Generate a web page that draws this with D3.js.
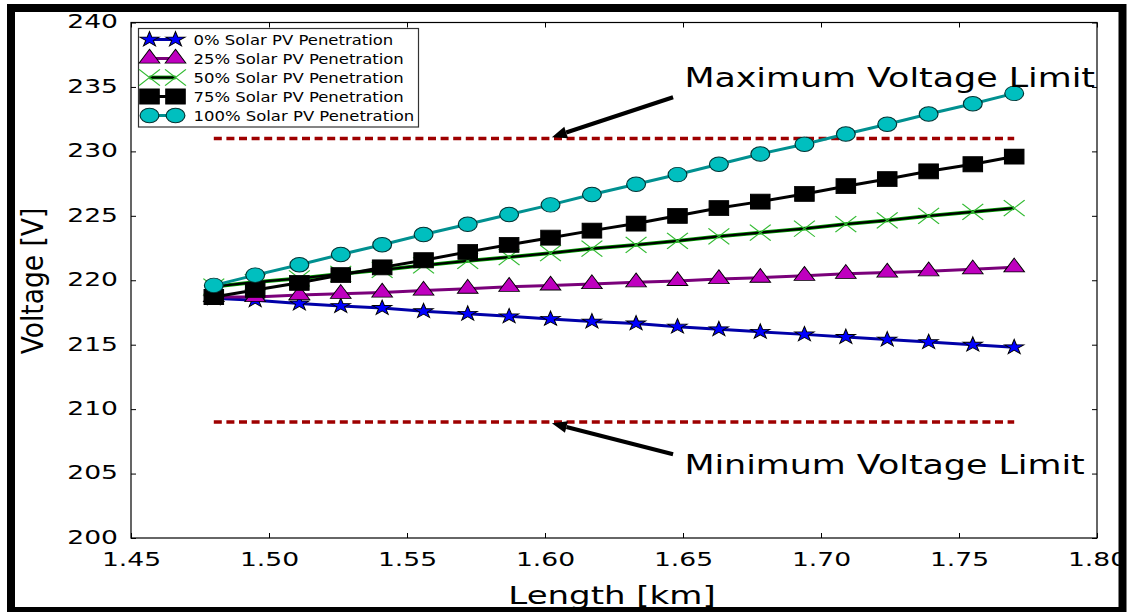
<!DOCTYPE html>
<html>
<head>
<meta charset="utf-8">
<script src="https://cdn.jsdelivr.net/npm/d3@7"></script>
<style>
  body { margin: 0; background: #fff; }
  text { font-family: "DejaVu Sans", sans-serif; fill: #000; }
</style>
</head>
<body>
<div id="chart"></div>
<script>

// length along the feeder [km]
var lengths = [1.480, 1.495, 1.511, 1.526, 1.541, 1.556, 1.572, 1.587, 1.602, 1.617,
               1.633, 1.648, 1.663, 1.678, 1.694, 1.709, 1.724, 1.739, 1.755, 1.770];

// voltages [V] for each penetration level
var pv0 = [218.6, 218.45, 218.2, 218.0, 217.85, 217.6, 217.4, 217.2, 217.0, 216.8,
           216.65, 216.4, 216.2, 216.0, 215.8, 215.6, 215.4, 215.2, 215.0, 214.8];
var pv25 = [218.7, 218.7, 218.85, 218.95, 219.05, 219.2, 219.35, 219.5, 219.6, 219.7,
            219.85, 219.95, 220.1, 220.2, 220.35, 220.5, 220.6, 220.7, 220.85, 221.0];
var pv50 = [219.5, 219.85, 220.15, 220.5, 220.8, 221.15, 221.5, 221.8, 222.1, 222.45,
            222.75, 223.05, 223.4, 223.7, 224.0, 224.35, 224.65, 225.0, 225.3, 225.6];
var pv75 = [218.7, 219.25, 219.8, 220.4, 221.0, 221.55, 222.2, 222.75, 223.3, 223.85,
            224.4, 225.0, 225.6, 226.1, 226.7, 227.3, 227.85, 228.45, 229.0, 229.6];
var pv100 = [219.6, 220.4, 221.2, 222.0, 222.75, 223.55, 224.35, 225.1, 225.85, 226.65,
             227.45, 228.2, 229.0, 229.8, 230.55, 231.35, 232.1, 232.9, 233.7, 234.5];

var seriesNames = ["0% Solar PV Penetration", "25% Solar PV Penetration",
                   "50% Solar PV Penetration", "75% Solar PV Penetration",
                   "100% Solar PV Penetration"];

// voltage limits
var limitValues = [231, 209];
var limitRange = [1.48, 1.77];
var limitLabels = ["Maximum Voltage Limit", "Minimum Voltage Limit"];
var limitArrowTail = [[1.6464, 234.2], [1.6464, 206.5]];
var limitArrowTip = [[1.6025, 231.1], [1.6025, 208.9]];
var limitLabelPos = [[1.6505, 235.0], [1.6505, 205.0]];

// tick labels
var xTicks = [1.45, 1.50, 1.55, 1.60, 1.65, 1.70, 1.75, 1.80];
var yTicks = [200, 205, 210, 215, 220, 225, 230, 235, 240];

window.onload = function () {
  draw_chart();
};

function draw_chart() {

  var width = 1129, height = 612;
  var stretch = 1.33;

  var svg = d3.select("#chart")
              .append("svg")
                .attr("width", width)
                .attr("height", height);

  svg.append("rect").attr("width", width).attr("height", height).attr("fill", "#fff");

  // scales
  var x = d3.scaleLinear().domain([1.45, 1.80]).range([131, 1097]);
  var y = d3.scaleLinear().domain([200, 240]).range([538, 22.5]);

  // axes frame
  svg.append("rect")
    .attr("x", x(1.45)).attr("y", y(240))
    .attr("width", x(1.80) - x(1.45)).attr("height", y(200) - y(240))
    .attr("fill", "none").attr("stroke", "#000").attr("stroke-width", 1.2);

  // inward ticks on all four sides
  var bottom = svg.append("g")
      .attr("transform", "translate(0," + y(200) + ")")
      .call(d3.axisBottom(x).tickValues(xTicks).tickSize(-5).tickSizeOuter(0)
              .tickPadding(14).tickFormat(d3.format(".2f")));
  var left = svg.append("g")
      .attr("transform", "translate(" + x(1.45) + ",0)")
      .call(d3.axisLeft(y).tickValues(yTicks).tickSize(-5).tickSizeOuter(0)
              .tickPadding(14).tickFormat(d3.format("d")));
  svg.append("g")
      .attr("transform", "translate(0," + y(240) + ")")
      .call(d3.axisTop(x).tickValues(xTicks).tickSize(-5).tickSizeOuter(0).tickFormat(""));
  svg.append("g")
      .attr("transform", "translate(" + x(1.80) + ",0)")
      .call(d3.axisRight(y).tickValues(yTicks).tickSize(-5).tickSizeOuter(0).tickFormat(""));

  svg.selectAll(".domain").remove();
  svg.selectAll(".tick line").attr("stroke", "#000").attr("stroke-width", 1);

  bottom.selectAll("text")
    .attr("font-size", 20).attr("font-family", "DejaVu Sans").attr("fill", "#000")
    .attr("transform", "scale(" + stretch + ",1)");
  left.selectAll("text")
    .attr("font-size", 20).attr("font-family", "DejaVu Sans").attr("fill", "#000")
    .attr("x", 0)
    .attr("transform", "translate(-13,-1) scale(" + stretch + ",1)");

  // axis titles
  svg.append("text")
    .attr("transform", "translate(612,604) scale(1.36,1)")
    .attr("text-anchor", "middle")
    .attr("font-size", 25)
    .text("Length [km]");

  svg.append("text")
    .attr("transform", "translate(43,281) rotate(-90) scale(1,1.15)")
    .attr("text-anchor", "middle")
    .attr("font-size", 26.5)
    .text("Voltage [V]");

  // dashed voltage limits
  svg.selectAll(".limit")
    .data(limitValues)
    .enter()
    .append("line")
      .attr("class", "limit")
      .attr("x1", x(limitRange[0])).attr("x2", x(limitRange[1]))
      .attr("y1", function(d) { return y(d); })
      .attr("y2", function(d) { return y(d); })
      .attr("stroke", "#9e0000")
      .attr("stroke-width", 3.5)
      .attr("stroke-dasharray", "8,4.6");

  // series styles
  var styles = [
    {data: pv0, line: "#0000a8", width: 3, symbol: d3.symbolStar, size: 70, fill: "#0000ff", stroke: "#000", sw: 0.8},
    {data: pv25, line: "#7a007a", width: 3, symbol: d3.symbolTriangle, size: 110, fill: "#bf00bf", stroke: "#000", sw: 0.8},
    {data: pv50, line: "#000", width: 2.2, under: "#00a000", symbol: d3.symbolTimes, size: 170, fill: "none", stroke: "#33bb33", sw: 1},
    {data: pv75, line: "#000", width: 3, symbol: d3.symbolSquare, size: 225, fill: "#000", stroke: "#000", sw: 0.8},
    {data: pv100, line: "#009090", width: 3, symbol: d3.symbolCircle, size: 165, fill: "#00bfbf", stroke: "#003333", sw: 0.9}
  ];

  var line = d3.line()
    .x(function(d, i) { return x(lengths[i]); })
    .y(function(d) { return y(d); });

  styles.forEach(function(s) {
    if (s.under) {
      svg.append("path").attr("d", line(s.data)).attr("fill", "none")
        .attr("stroke", s.under).attr("stroke-width", s.width + 1.6);
    }
    svg.append("path").attr("d", line(s.data)).attr("fill", "none")
      .attr("stroke", s.line).attr("stroke-width", s.width);

    svg.append("g").selectAll("path")
      .data(s.data)
      .enter()
      .append("path")
        .attr("d", d3.symbol().type(s.symbol).size(s.size))
        .attr("transform", function(d, i) {
          return "translate(" + x(lengths[i]) + "," + y(d) + ") scale(1.3,1)";
        })
        .attr("fill", s.fill)
        .attr("stroke", s.stroke)
        .attr("stroke-width", s.sw);
  });

  // annotation arrows
  limitLabels.forEach(function(label, k) {
    var tail = [x(limitArrowTail[k][0]), y(limitArrowTail[k][1])];
    var tip = [x(limitArrowTip[k][0]), y(limitArrowTip[k][1])];
    var ang = Math.atan2(tip[1] - tail[1], tip[0] - tail[0]);
    var headLen = 15, headW = 6;
    var base = [tip[0] - headLen * Math.cos(ang), tip[1] - headLen * Math.sin(ang)];

    svg.append("line")
      .attr("x1", tail[0]).attr("y1", tail[1])
      .attr("x2", base[0]).attr("y2", base[1])
      .attr("stroke", "#000").attr("stroke-width", 4);

    svg.append("path")
      .attr("d", "M" + tip[0] + "," + tip[1] +
                 "L" + (base[0] - headW * Math.sin(ang)) + "," + (base[1] + headW * Math.cos(ang)) +
                 "L" + (base[0] + headW * Math.sin(ang)) + "," + (base[1] - headW * Math.cos(ang)) + "Z")
      .attr("fill", "#000");

    svg.append("text")
      .attr("transform", "translate(" + x(limitLabelPos[k][0]) + "," + y(limitLabelPos[k][1]) + ") scale(1.34,1)")
      .attr("font-size", 26)
      .text(label);
  });

  // legend
  var legend = svg.append("g").attr("transform", "translate(138.5,28.5)");
  legend.append("rect")
    .attr("width", 280).attr("height", 98.5)
    .attr("fill", "#fff").attr("stroke", "#333").attr("stroke-width", 1.2);

  styles.forEach(function(s, i) {
    var row = legend.append("g").attr("transform", "translate(0," + (11 + i * 19) + ")");
    if (s.under) {
      row.append("line").attr("x1", 11).attr("x2", 37).attr("stroke", s.under).attr("stroke-width", s.width + 1.6);
    }
    row.append("line").attr("x1", 11).attr("x2", 37).attr("stroke", s.line).attr("stroke-width", s.width);
    [11, 37].forEach(function(px) {
      row.append("path")
        .attr("d", d3.symbol().type(s.symbol).size(s.size))
        .attr("transform", "translate(" + px + ",0) scale(1.3,1)")
        .attr("fill", s.fill).attr("stroke", s.stroke).attr("stroke-width", s.sw);
    });
    row.append("text")
      .attr("transform", "translate(55,5) scale(1.22,1)")
      .attr("font-size", 13.5)
      .text(seriesNames[i]);
  });

  // thick outer frame
  svg.append("rect")
    .attr("x", 11).attr("y", 8)
    .attr("width", 1111.5).attr("height", 603)
    .attr("fill", "none").attr("stroke", "#000").attr("stroke-width", 8);
}

</script>
</body>
</html>
